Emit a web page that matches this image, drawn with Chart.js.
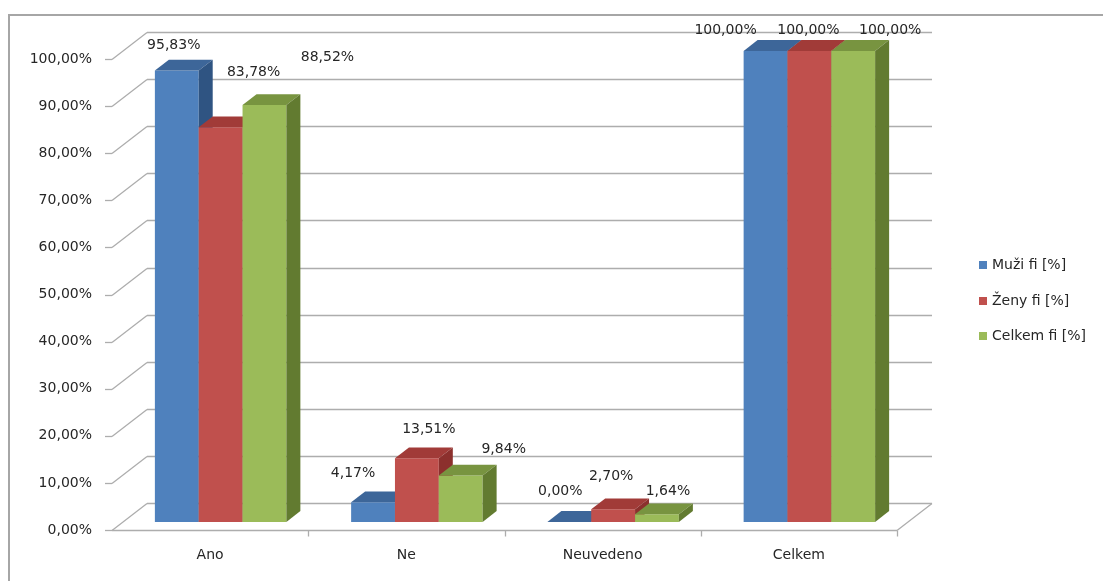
<!DOCTYPE html>
<html>
<head>
<meta charset="utf-8">
<script src="https://cdn.jsdelivr.net/npm/chart.js@4.4.0/dist/chart.umd.min.js"></script>
<style>
  html, body { margin: 0; padding: 0; background: #fff; overflow: hidden; }
  #wrap { width: 1103px; height: 581px; position: relative; overflow: hidden; }
  #chart { display: block; }
</style>
</head>
<body>
<div id="wrap"><canvas id="chart" width="1103" height="581"></canvas></div>
<script>
const categories = ["Ano", "Ne", "Neuvedeno", "Celkem"];
const seriesNames = ["Muži fi [%]", "Ženy fi [%]", "Celkem fi [%]"];
const muzi = [95.83, 4.17, 0.00, 100.00];
const zeny = [83.78, 13.51, 2.70, 100.00];
const celkem = [88.52, 9.84, 1.64, 100.00];
const yTicks = [0, 10, 20, 30, 40, 50, 60, 70, 80, 90, 100];

// face colours: front, top, side
const palette = [
  { front: "#4f81bd", top: "#3d6699", side: "#2f5482" },
  { front: "#c0504d", top: "#a13b38", side: "#8c302d" },
  { front: "#9bbb59", top: "#789440", side: "#627b30" }
];

// depth of the plot box and where the columns sit inside it
const DX = 35, DY = -27;
const Z0 = 0.3, Z1 = 0.7;
const GRID = "#adadad";
const FONT = "14px 'DejaVu Sans'";
const TEXT = "#262626";

// hand placed data labels (dx, dy from the default spot above each column)
const labelNudge = [
  [[-3, 2], [-20, -2], [-9, -4], [-40, 6]],
  [[33, -28], [12, -2], [-2, -6], [-1, 6]],
  [[63, -21], [43, 1], [11, 4], [37, 6]]
];

const fmt = v => v.toFixed(2).replace(".", ",") + "%";

function line(ctx, x1, y1, x2, y2) {
  ctx.beginPath();
  ctx.moveTo(x1, y1);
  ctx.lineTo(x2, y2);
  ctx.stroke();
}

function poly(ctx, pts, color) {
  ctx.beginPath();
  ctx.moveTo(pts[0][0], pts[0][1]);
  for (let i = 1; i < pts.length; i++) ctx.lineTo(pts[i][0], pts[i][1]);
  ctx.closePath();
  ctx.fillStyle = color;
  ctx.fill();
}

const box3d = {
  id: "box3d",
  beforeDatasetsDraw(chart) {
    const { ctx, chartArea: a, scales: { y } } = chart;
    ctx.save();
    // frame around the chart object, open to the right and bottom
    ctx.fillStyle = "#a6a6a6";
    ctx.fillRect(8, 14, chart.width - 8, 2);
    ctx.fillRect(8, 14, 2, chart.height - 14);

    ctx.strokeStyle = GRID;
    ctx.lineWidth = 1.3;
    yTicks.forEach(v => {
      const py = Math.round(y.getPixelForValue(v)) + 0.5;
      line(ctx, a.left - 7, py, a.left, py);
      line(ctx, a.left, py, a.left + DX, py + DY);
      line(ctx, a.left + DX, py + DY, a.right + DX, py + DY);
    });

    const bottom = Math.round(a.bottom) + 0.5;
    line(ctx, a.left, bottom, a.right, bottom);
    line(ctx, a.right, bottom, a.right + DX, bottom + DY);
    const step = (a.right - a.left) / categories.length;
    for (let i = 1; i <= categories.length; i++) {
      const px = Math.round(a.left + i * step) + 0.5;
      line(ctx, px, bottom, px, bottom + 6);
    }
    ctx.restore();
  },
  beforeDatasetDraw() {
    // columns are painted below as solid blocks
    return false;
  },
  afterDatasetsDraw(chart) {
    const ctx = chart.ctx;
    const ox = DX * Z0, oy = DY * Z0;
    const bx = DX * (Z1 - Z0), by = DY * (Z1 - Z0);
    const tops = [];
    categories.forEach((c, i) => {
      chart.data.datasets.forEach((ds, d) => {
        const bar = chart.getDatasetMeta(d).data[i];
        const { x, y, base, width } = bar.getProps(["x", "y", "base", "width"], true);
        const l = x - width / 2 + ox, r = x + width / 2 + ox;
        const t = y + oy, b = base + oy;
        const col = palette[d];
        poly(ctx, [[l, t], [r, t], [r, b], [l, b]], col.front);
        poly(ctx, [[l, t], [r, t], [r + bx, t + by], [l + bx, t + by]], col.top);
        poly(ctx, [[r, t], [r + bx, t + by], [r + bx, b + by], [r, b]], col.side);
        tops.push({ x: x + ox, y: t, d, i, v: ds.data[i] });
      });
    });

    ctx.save();
    ctx.font = FONT;
    ctx.fillStyle = TEXT;
    ctx.textAlign = "center";
    ctx.textBaseline = "middle";
    tops.forEach(p => {
      const [nx, ny] = labelNudge[p.d][p.i];
      ctx.fillText(fmt(p.v), p.x + nx, p.y - 27 + ny);
    });
    ctx.restore();
  },
  afterDraw(chart) {
    const ctx = chart.ctx;
    ctx.save();
    ctx.font = FONT;
    ctx.textBaseline = "middle";
    ctx.textAlign = "left";
    const ys = [265, 301, 336];
    chart.data.datasets.forEach((ds, d) => {
      ctx.fillStyle = palette[d].front;
      ctx.fillRect(979, ys[d] - 4, 8, 8);
      ctx.fillStyle = TEXT;
      ctx.fillText(ds.label, 992, ys[d]);
    });
    ctx.restore();
  }
};

new Chart(document.getElementById("chart"), {
  type: "bar",
  data: {
    labels: categories,
    datasets: [
      { label: seriesNames[0], data: muzi, backgroundColor: palette[0].front },
      { label: seriesNames[1], data: zeny, backgroundColor: palette[1].front },
      { label: seriesNames[2], data: celkem, backgroundColor: palette[2].front }
    ]
  },
  options: {
    responsive: false,
    animation: false,
    devicePixelRatio: 1,
    layout: { padding: { left: 0, right: 206, top: 59, bottom: 0 } },
    datasets: { bar: { categoryPercentage: 0.67, barPercentage: 1 } },
    plugins: {
      legend: { display: false },
      tooltip: { enabled: false }
    },
    scales: {
      x: {
        grid: { display: false },
        border: { display: false },
        ticks: { color: TEXT, font: { family: "DejaVu Sans", size: 14 }, padding: 9 },
        afterFit(scale) { scale.height = 51; }
      },
      y: {
        min: 0,
        max: 100,
        grid: { display: false },
        border: { display: false },
        ticks: {
          stepSize: 10,
          color: TEXT,
          font: { family: "DejaVu Sans", size: 14 },
          padding: 12,
          callback: v => fmt(v)
        },
        afterFit(scale) { scale.width = 112; }
      }
    }
  },
  plugins: [box3d]
});
</script>
</body>
</html>
